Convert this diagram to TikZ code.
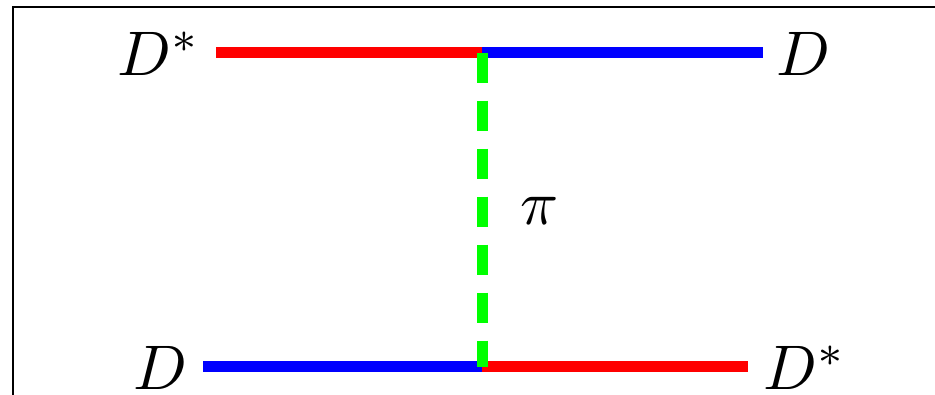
\documentclass[tikz,border=0pt]{standalone}
\usepackage{graphicx}
\newcommand{\mylbl}[1]{\scalebox{6.3}{$#1$}}
\begin{document}
\begin{tikzpicture}[x=1pt,y=-1pt,
  lbl/.style={inner sep=0pt},
  prop/.style={line width=10.5pt},
  pion/.style={line width=11pt,draw={rgb,255:red,0;green,255;blue,0},dash pattern=on 30pt off 18pt}]
\useasboundingbox (0,0) rectangle (935,394);
\draw[line width=2.6pt] (13,400) -- (13,7) -- (940,7);
% vertices and ends
\coordinate (tl) at (216,52.5);
\coordinate (vt) at (482,52.5);
\coordinate (tr) at (763,52.5);
\coordinate (bl) at (203,366.5);
\coordinate (vb) at (482,366.5);
\coordinate (br) at (748,366.5);
% labels
\node[lbl,anchor=base east] (Dstl) at (201,75) {\mylbl{D^*}};
\node[lbl,anchor=base west] (Dtr) at (776,75) {\mylbl{D}};
\node[lbl,anchor=base east] (Dbl) at (188,389) {\mylbl{D}};
\node[lbl,anchor=base west] (Dsbr) at (763,389) {\mylbl{D^*}};
\node[lbl] (pi) at (540,211) {\mylbl{\pi}};
% propagators
\draw[prop,red] (tl) -- (vt);
\draw[prop,blue] (vt) -- (tr);
\draw[prop,blue] (bl) -- (vb);
\draw[prop,red] (vb) -- (br);
\draw[pion] (vt) -- (vb);
\end{tikzpicture}
\end{document}
